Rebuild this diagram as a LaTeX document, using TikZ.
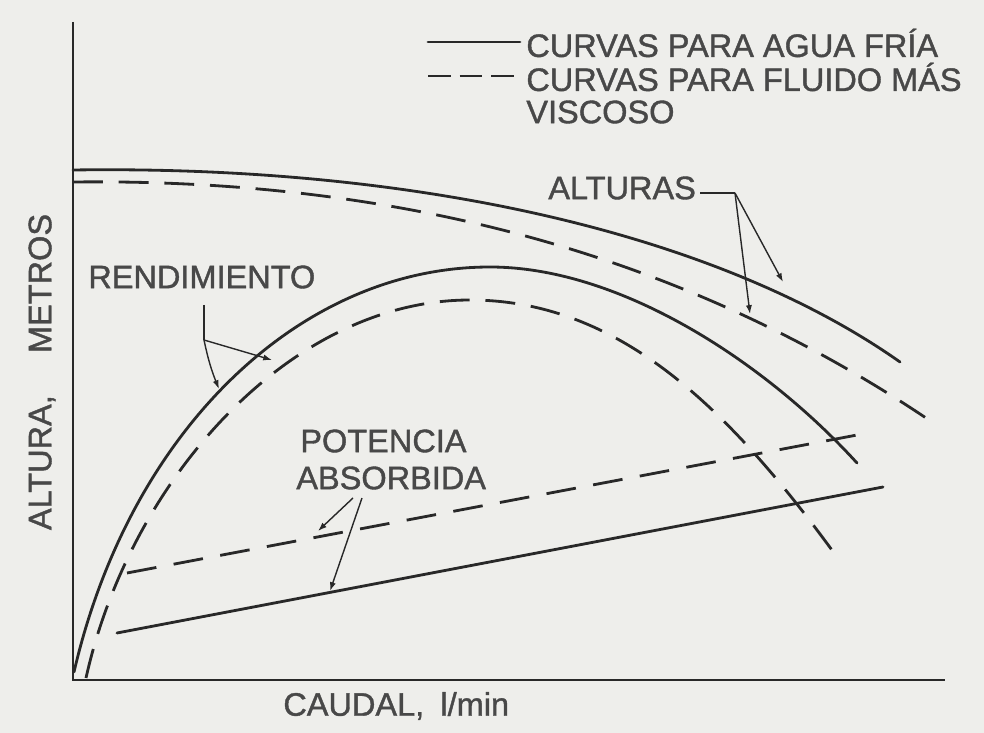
\documentclass[tikz,border=0pt]{standalone}
\usepackage{fontspec}
\setmainfont{Liberation Sans}
\font\lblfnt="Liberation Sans:embolden=1.2" at 18.5pt
\usetikzlibrary{arrows.meta}
\definecolor{paper}{RGB}{238,238,235}
\definecolor{ink}{RGB}{40,40,40}
\definecolor{txt}{RGB}{72,72,72}
\tikzset{
  curve/.style={draw=ink, line width=1.6pt, line cap=round},
  dcurve/.style={curve, dash pattern=on 17pt off 9pt, line cap=butt},
  axisline/.style={draw=ink, line width=1.3pt},
  lbl/.style={text=txt, font=\lblfnt, inner sep=0pt},
  leader/.style={draw=ink, line width=0.8pt, -{Latex[length=5pt,width=3.5pt]}},
}
\begin{document}
\begin{tikzpicture}[x=0.02cm, y=-0.02cm]
\fill[paper] (0,0) rectangle (984,733);
\useasboundingbox (0,0) rectangle (984,733);
% axes
\coordinate (O) at (73,680);
\coordinate (ytop) at (73,22);
\coordinate (xend) at (945,680);
\draw[axisline] (ytop) -- (O) -- (xend);
% legend
\coordinate (ls1) at (428,42); \coordinate (le1) at (520,42);
\coordinate (ls2) at (428,76); \coordinate (le2) at (520,76);
\draw[curve] (ls1) -- (le1);
\draw[curve, dash pattern=on 13pt off 5pt, line cap=butt] (ls2) -- (le2);
\node[lbl, anchor=west] (leg1) at (526,43) {CURVAS PARA AGUA FRÍA};
\node[lbl, anchor=west] (leg2) at (526,77) {CURVAS PARA FLUIDO MÁS};
\node[lbl, anchor=west] (leg3) at (526,112) {VISCOSO};
% altura curves
\draw[curve] (73,170) .. controls (420,165) and (720,235) .. (900,362);
\draw[dcurve] (73,182) .. controls (420,178) and (700,265) .. (932,422);
% rendimiento
\draw[curve] (74,672) .. controls (130,430) and (300,267) .. (490,267)
  .. controls (620,267) and (765,362) .. (857,463);
\draw[dcurve] (86,678) .. controls (130,480) and (290,300) .. (470,300)
  .. controls (620,300) and (730,410) .. (837,557);
% potencia
\coordinate (pd1) at (127,573); \coordinate (pd2) at (857,435);
\coordinate (ps1) at (117,633); \coordinate (ps2) at (883,487);
\draw[curve, dash pattern=on 17pt off 10pt, line cap=butt] (pd1) -- (pd2);
\draw[curve] (ps1) -- (ps2);
% labels
\node[lbl, anchor=west] (alt) at (548,188) {ALTURAS};
\coordinate (altk) at (735,193);
\draw[draw=ink, line width=0.8pt] (alt.east) ++(4,5) -- (altk);
\draw[leader] (altk) -- (783,282);
\draw[leader] (altk) -- (750,314);
\node[lbl, anchor=west] (ren) at (88,277) {RENDIMIENTO};
\coordinate (renk) at (204,340);
\draw[draw=ink, line width=0.8pt] (204,305) -- (renk);
\draw[leader] (renk) to[bend right=5] (219,389);
\draw[leader] (renk) -- (272,360);
\node[lbl, anchor=west] (pot1) at (300,441) {POTENCIA};
\node[lbl, anchor=west] (pot2) at (296,478) {ABSORBIDA};
\draw[leader] (353,498) -- (318,531);
\draw[leader] (362,498) -- (330,591);
\node[lbl, anchor=west] (cau) at (283,706) {CAUDAL,\hspace{0.5em}l/min};
\node[lbl, rotate=90] (alty) at (42,372) {ALTURA,\hspace{1.3em}METROS};
\end{tikzpicture}
\end{document}
